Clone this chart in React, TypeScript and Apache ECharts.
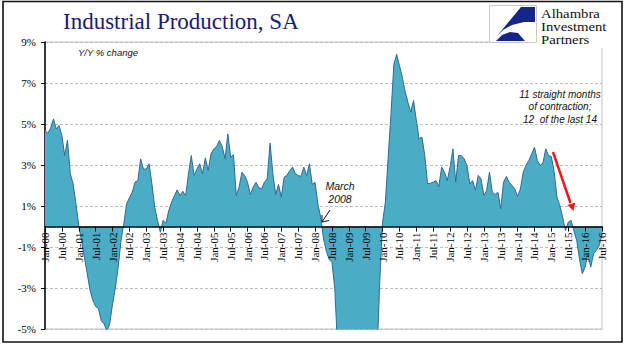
import React, { useEffect, useRef } from "react";
import * as echarts from "echarts";

const monthNames = ["Jan", "Feb", "Mar", "Apr", "May", "Jun", "Jul", "Aug", "Sep", "Oct", "Nov", "Dec"];
const firstYear = 2000;

// Y/Y % change, monthly, Jan-2000 .. Jul-2016
const ip2000 = [4.68, 4.55, 4.8, 5.25, 4.76, 4.93, 4.44, 3.46, 4.2, 2.57, 2.08, 1.1];
const ip2001 = [0.05, -0.7, -1.5, -2.3, -3.1, -3.6, -3.9, -4.0, -4.6, -4.75, -5.1, -4.75];
const ip2002 = [-3.8, -3.0, -2.0, -0.7, 0.13, 1.1, 1.4, 1.67, 2.16, 2.24, 3.3, 2.8];
const ip2003 = [2.8, 3.06, 2.08, 0.94, 0.3, -0.28, 0.3, 0.16, 0.78, 1.19, 1.5, 1.79];
const ip2004 = [1.5, 1.72, 1.5, 2.57, 3.46, 2.49, 2.8, 3.06, 2.57, 3.35, 2.73, 3.54];
const ip2005 = [3.79, 3.9, 4.2, 3.9, 3.3, 4.52, 3.38, 3.5, 1.51, 1.92, 2.65, 2.49];
const ip2006 = [2.16, 1.56, 1.92, 2.16, 1.89, 1.84, 2.16, 2.33, 4.07, 2.57, 1.56, 2.05];
const ip2007 = [1.43, 2.4, 2.49, 2.73, 2.9, 2.57, 2.49, 2.44, 2.9, 2.49, 3.06, 2.05];
const ip2008 = [2.16, 1.1, 0.46, -0.6, -1.2, -1.6, -1.75, -3.0, -5.9, -5.3, -6.8, -8.7];
const ip2009 = [-10.9, -11.5, -12.6, -13.0, -13.3, -13.4, -12.3, -10.9, -9.6, -8.2, -6.4, -2.7];
const ip2010 = [0.2, 1.2, 3.4, 5.5, 7.9, 8.4, 7.85, 7.3, 6.6, 6.07, 5.58, 6.15];
const ip2011 = [5.17, 4.28, 4.36, 3.46, 2.08, 2.11, 2.16, 2.24, 1.95, 2.9, 2.65, 2.24];
const ip2012 = [2.9, 3.79, 2.16, 3.46, 3.46, 3.3, 2.98, 2.08, 2.24, 1.76, 2.49, 2.33];
const ip2013 = [1.51, 1.76, 2.65, 1.67, 1.56, 1.67, 0.86, 2.16, 2.44, 2.16, 2.0, 1.84];
const ip2014 = [1.46, 1.84, 2.65, 2.98, 3.22, 3.54, 3.87, 3.22, 2.98, 3.09, 3.79, 3.46];
const ip2015 = [3.41, 2.65, 1.43, 1.02, 0.46, -0.2, 0.21, 0.3, -0.2, -0.68, -1.58, -2.3];
const ip2016 = [-1.98, -1.33, -1.98, -1.33, -1.17, -0.93, -0.36];

const values = [
  ...ip2000, ...ip2001, ...ip2002, ...ip2003, ...ip2004, ...ip2005, ...ip2006, ...ip2007,
  ...ip2008, ...ip2009, ...ip2010, ...ip2011, ...ip2012, ...ip2013, ...ip2014, ...ip2015, ...ip2016,
];

const categories = values.map((_, i) => {
  const y = firstYear + Math.floor(i / 12);
  return monthNames[i % 12] + "-" + String(y % 100).padStart(2, "0");
});

const yMin = -5;
const yMax = 9;
const yStep = 2;

const titleText = "Industrial Production, SA";
const subtitleText = "Y/Y % change";
const noteMarch = ["March", "2008"];
const noteContraction = ["11 straight months", "of contraction;", "12  of the last 14"];
const logoLines = ["Alhambra", "Investment", "Partners"];

const GRID_TOP = 42;
const GRID_BOTTOM = 29;
const CHART_H = 358;

export default function App() {
  const ref = useRef<HTMLDivElement>(null);

  useEffect(() => {
    if (!ref.current) return;
    const chart = echarts.init(ref.current, null, { renderer: "svg" });
    const serif = '"Liberation Serif", "Times New Roman", serif';
    const sans = '"Liberation Sans", Arial, sans-serif';
    const italic = (size: number) => `italic ${size}px ${sans}`;

    // place the category axis on the zero line
    const plotH = CHART_H - GRID_TOP - GRID_BOTTOM;
    const zeroFromBottom = plotH * (0 - yMin) / (yMax - yMin);

    const graphics: any[] = [
      {
        type: "rect",
        z: 50,
        shape: { x: 489, y: 0, width: 135, height: 48 },
        style: { fill: "#ffffff" },
      },
      {
        type: "rect",
        z: 51,
        shape: { x: 489.5, y: 5.5, width: 47, height: 37 },
        style: { fill: "#ffffff", stroke: "#c8c8c8", lineWidth: 1 },
      },
      {
        type: "polygon",
        z: 52,
        shape: {
          points: [
            [521, 7], [535, 7], [535, 22], [524, 22], [512, 25], [503, 30], [497, 36],
          ],
        },
        style: { fill: "#15258a" },
      },
      {
        type: "polygon",
        z: 52,
        shape: {
          points: [[496, 41], [502, 35], [510, 32], [518, 33], [525, 41]],
        },
        style: { fill: "#15258a" },
      },
      ...logoLines.map((t, i) => ({
        type: "text",
        z: 53,
        x: 541,
        y: 14 + i * 13,
        scaleX: 1.18,
        style: {
          text: t,
          font: `12.5px ${serif}`,
          fill: "#111",
          align: "left",
          verticalAlign: "middle",
          textAlign: "left",
          textVerticalAlign: "middle",
        },
      })),
      {
        type: "text",
        z: 53,
        x: 63,
        y: 21,
        style: {
          text: titleText,
          font: `23px ${serif}`,
          fill: "#1b1b72",
          align: "left",
          verticalAlign: "middle",
          textAlign: "left",
          textVerticalAlign: "middle",
        },
      },
      {
        type: "text",
        z: 53,
        x: 78,
        y: 52,
        style: {
          text: subtitleText,
          font: italic(9.5),
          fill: "#111",
          align: "left",
          verticalAlign: "middle",
          textAlign: "left",
          textVerticalAlign: "middle",
        },
      },
      ...noteMarch.map((t, i) => ({
        type: "text",
        z: 53,
        x: 340,
        y: 186 + i * 13,
        style: {
          text: t,
          font: italic(10.5),
          fill: "#111",
          align: "center",
          verticalAlign: "middle",
          textAlign: "center",
          textVerticalAlign: "middle",
        },
      })),
      ...noteContraction.map((t, i) => ({
        type: "text",
        z: 53,
        x: 560,
        y: 94 + i * 12.5,
        style: {
          text: t,
          font: italic(10),
          fill: "#111",
          align: "center",
          verticalAlign: "middle",
          textAlign: "center",
          textVerticalAlign: "middle",
        },
      })),
      {
        type: "line",
        z: 53,
        shape: { x1: 330, y1: 210, x2: 322, y2: 222 },
        style: { stroke: "#111", lineWidth: 1 },
      },
      {
        type: "polyline",
        z: 53,
        shape: { points: [[322, 215], [322, 222], [329, 220.5]] },
        style: { stroke: "#111", lineWidth: 1, fill: "none" },
      },
      {
        type: "line",
        z: 53,
        shape: { x1: 553, y1: 152, x2: 570.5, y2: 203 },
        style: { stroke: "#e81c1c", lineWidth: 2.5 },
      },
      {
        type: "polygon",
        z: 53,
        shape: { points: [[573.5, 211], [575.3, 202.5], [567.5, 205]] },
        style: { fill: "#e81c1c" },
      },
      {
        type: "rect",
        z: 60,
        shape: { x: 3, y: 1.5, width: 619, height: 340.5 },
        style: { fill: "none", stroke: "#111", lineWidth: 1.6 },
      },
    ];

    chart.setOption({
      animation: false,
      backgroundColor: "#ffffff",
      grid: {
        left: 45,
        right: 39,
        top: GRID_TOP,
        bottom: GRID_BOTTOM,
        show: true,
        borderColor: "#c0c0c0",
        borderWidth: 1,
        backgroundColor: "transparent",
      },
      xAxis: {
        type: "category",
        data: categories,
        boundaryGap: false,
        position: "bottom",
        offset: -zeroFromBottom,
        axisLine: { onZero: false, lineStyle: { color: "#000", width: 1.5 } },
        axisTick: { show: true, interval: 5, length: 5, lineStyle: { color: "#000", width: 1 } },
        axisLabel: {
          interval: 5,
          rotate: 90,
          margin: 6,
          fontFamily: serif,
          fontSize: 11,
          color: "#000",
        },
        splitLine: { show: false },
        z: 5,
      },
      yAxis: {
        type: "value",
        min: yMin,
        max: yMax,
        interval: yStep,
        axisLine: { show: true, lineStyle: { color: "#000", width: 1.5 } },
        axisTick: { show: true, length: 4, lineStyle: { color: "#000" } },
        axisLabel: {
          formatter: "{value}%",
          fontFamily: serif,
          fontSize: 11,
          color: "#000",
          margin: 9,
        },
        splitLine: { show: true, lineStyle: { color: "#bdbdbd", type: [3, 2], width: 1 } },
      },
      series: [
        {
          type: "line",
          data: values,
          symbol: "none",
          clip: true,
          lineStyle: { color: "#2e6b92", width: 1 },
          areaStyle: { color: "#4bacc6", opacity: 1 },
          z: 2,
        },
      ],
      graphic: graphics,
    });

    return () => chart.dispose();
  }, []);

  return (
    <div
      ref={ref}
      style={{ position: "fixed", left: 0, top: 0, width: 641, height: 358, background: "#fff" }}
    />
  );
}
